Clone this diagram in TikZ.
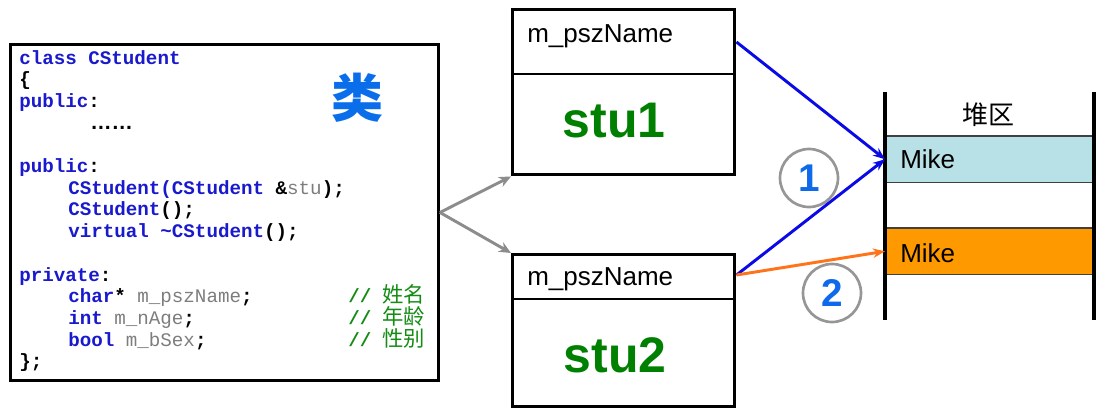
\documentclass[tikz,border=0pt]{standalone}
\usepackage{fontspec}
\setmainfont{Liberation Sans}
\newfontfamily\codefont{Liberation Mono}
\newfontfamily\cjk{Noto Sans CJK SC}
\usetikzlibrary{arrows.meta}
\definecolor{kwblue}{RGB}{25,25,205}
\definecolor{vargray}{RGB}{125,125,125}
\definecolor{cmgreen}{RGB}{20,140,20}
\definecolor{bigblue}{RGB}{10,110,235}
\definecolor{stugreen}{RGB}{0,128,0}
\definecolor{arrowblue}{RGB}{10,10,230}
\definecolor{arroworange}{RGB}{255,115,25}
\definecolor{heapblue}{RGB}{183,225,230}
\definecolor{heaporange}{RGB}{255,153,0}
\definecolor{circgray}{RGB}{150,150,150}
\definecolor{numblue}{RGB}{15,105,235}
\definecolor{grayarrow}{RGB}{140,140,140}
\newcommand{\ckw}[1]{\textcolor{kwblue}{#1}}
\newcommand{\cvar}[1]{\textcolor{vargray}{\mdseries #1}}
\newcommand{\ccm}[1]{\textcolor{cmgreen}{#1}}
\begin{document}
\begin{tikzpicture}[x=0.75pt,y=-0.75pt,
  codeline/.style={anchor=base west, inner sep=0, font={\codefont\fontsize{14.4}{16}\selectfont\bfseries}},
  cjkcm/.style={anchor=base west, inner sep=0, text=cmgreen, font={\cjk\fontsize{16}{18}\selectfont}},
  objbox/.style={draw, line width=2.6pt, anchor=north west, minimum width=166.5pt, inner sep=0},
  fieldtxt/.style={anchor=base west, inner sep=0, font={\fontsize{19.5}{22}\selectfont}},
  stutxt/.style={anchor=base, inner sep=0, text=stugreen, font={\fontsize{37.5}{40}\selectfont\bfseries}},
  heapcell/.style={anchor=north west, minimum width=156.75pt, minimum height=34.5pt, inner sep=0},
  heapline/.style={draw=black!75, line width=0.9pt},
  wall/.style={line width=2.3pt},
  numcirc/.style={circle, draw=circgray, line width=2pt, minimum size=43.5pt, inner sep=0, text=numblue, font={\fontsize{29}{30}\selectfont\bfseries}},
  grayarr/.style={draw=grayarrow, line width=2.2pt, -{Stealth[length=9pt,width=8pt]}},
  bluearr/.style={draw=arrowblue, line width=2.2pt, -{Stealth[length=9pt,width=7pt]}},
  orangearr/.style={draw=arroworange, line width=2.2pt, -{Stealth[length=9pt,width=7pt]}}
]
\useasboundingbox (0,0) rectangle (1105,411);

% code box
\node[draw, line width=2.2pt, anchor=north west, minimum width=321pt, minimum height=252pt, inner sep=0] (codebox) at (9,43) {};
\node[codeline] (l0) at (19,64) {\ckw{class CStudent}};
\node[codeline] (l1) at (19,85.7) {\{};
\node[codeline] (l2) at (19,107.4) {\ckw{public}:};
\node[anchor=base west, inner sep=0, font={\fontsize{16}{18}\selectfont\bfseries}] (l3) at (90,129.1) {……};
\node[codeline] (l5) at (19,172.5) {\ckw{public}:};
\node[codeline] (l6) at (68,194.2) {\ckw{CStudent(CStudent} \&\cvar{stu});};
\node[codeline] (l7) at (68,215.9) {\ckw{CStudent}();};
\node[codeline] (l8) at (68,237.6) {\ckw{virtual \textasciitilde CStudent}();};
\node[codeline] (l10) at (19,281) {\ckw{private}:};
\node[codeline] (l11) at (68,302.7) {\ckw{char}* \cvar{m\_pszName};};
\node[codeline] (l12) at (68,324.4) {\ckw{int} \cvar{m\_nAge};};
\node[codeline] (l13) at (68,346.1) {\ckw{bool} \cvar{m\_bSex};};
\node[codeline] (l14) at (19,367.8) {\};};
\node[codeline] (c11) at (348,302.7) {\ccm{//}};
\node[codeline] (c12) at (348,324.4) {\ccm{//}};
\node[codeline] (c13) at (348,346.1) {\ccm{//}};
\node[cjkcm] (k11) at (382,302.7) {姓名};
\node[cjkcm] (k12) at (382,324.4) {年龄};
\node[cjkcm] (k13) at (382,346.1) {性别};
\node[text=bigblue, inner sep=0, font={\cjk\fontsize{39}{40}\selectfont\bfseries}] (lei) at (357,98) {类};

% object boxes
\node[objbox, minimum height=123.75pt] (box1) at (511,8) {};
\draw[line width=0.9pt] (box1.west |- 0,74) -- (box1.east |- 0,74);
\node[fieldtxt] (f1) at (527,42) {m\_pszName};
\node[stutxt] (s1) at (614,137) {stu1};
\node[objbox, minimum height=114pt] (box2) at (511,253) {};
\draw[line width=0.9pt] (box2.west |- 0,299) -- (box2.east |- 0,299);
\node[fieldtxt] (f2) at (527,285) {m\_pszName};
\node[stutxt] (s2) at (615,372) {stu2};

% heap
\node[heapcell, fill=heapblue] (m1) at (885,136) {};
\node[heapcell, fill=heaporange] (m2) at (885,228) {};
\draw[heapline] (m1.north west) -- (m1.north east);
\draw[heapline] (m1.south west) -- (m1.south east);
\draw[heapline] (m2.north west) -- (m2.north east);
\draw[heapline] (m2.south west) -- (m2.south east);
\draw[wall] (885,92) -- (885,320);
\draw[wall] (1094,92) -- (1094,320);
\node[anchor=base, inner sep=0, font={\cjk\fontsize{19.5}{22}\selectfont}] (heaplbl) at (988,124) {堆区};
\node[fieldtxt] (mk1) at (900,168) {Mike};
\node[fieldtxt] (mk2) at (900,262) {Mike};

% circled numbers
\node[numcirc] (n1) at (809,178) {1};
\node[numcirc] (n2) at (832,293) {2};

% connectors
\coordinate (p1) at (box1.east |- 0,42);
\coordinate (p2) at (box2.east |- 0,275);
\draw[grayarr] (codebox.east) -- (box1.south west);
\draw[grayarr] (codebox.east) -- (box2.north west);
\draw[bluearr] (p1) -- (m1.west);
\draw[bluearr] (p2) -- (m1.west);
\draw[orangearr] (p2) -- (m2.west);
\end{tikzpicture}
\end{document}
